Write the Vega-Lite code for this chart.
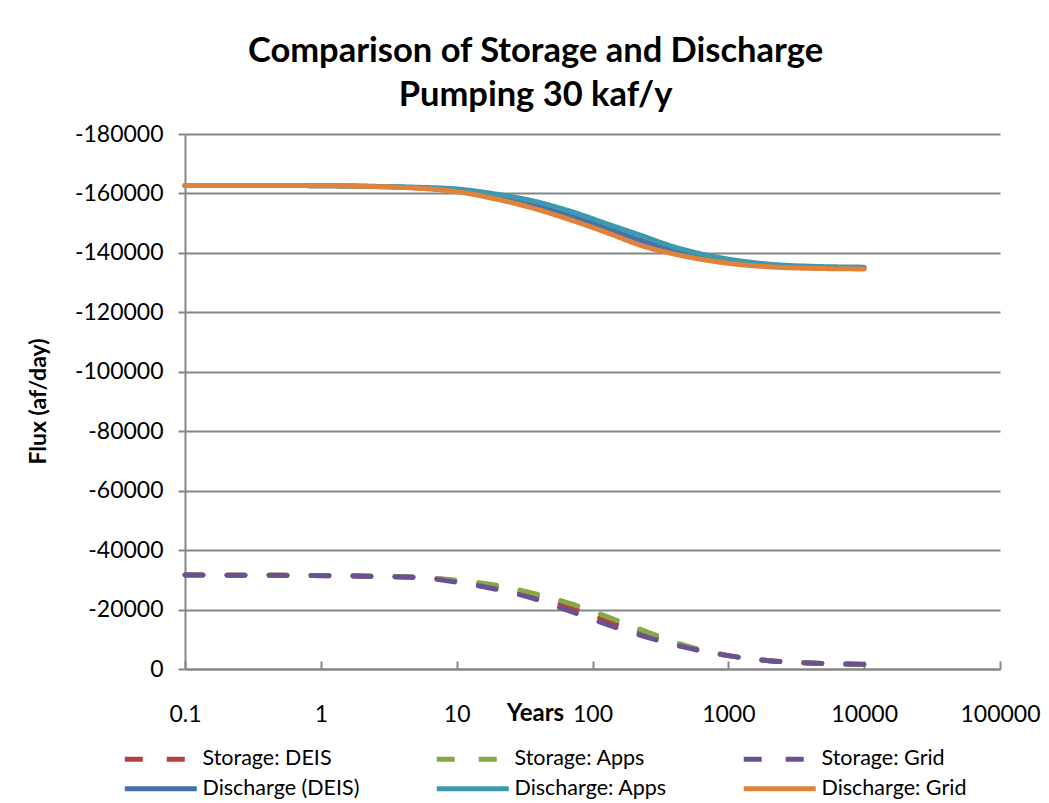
{
  "$schema": "https://vega.github.io/schema/vega-lite/v6.json",
  "width": 815,
  "height": 535,
  "autosize": "none",
  "padding": {"left": 185, "top": 134, "right": 49, "bottom": 134},
  "background": "white",
  "title": {
    "text": ["Comparison of Storage and Discharge", "Pumping 30 kaf/y"],
    "font": "Lato",
    "fontSize": 34.5,
    "fontWeight": "bold",
    "color": "black",
    "lineHeight": 44,
    "anchor": "middle",
    "dx": -57,
    "offset": 10
  },
  "config": {
    "view": {"stroke": null},
    "axis": {
      "labelFont": "Lato",
      "labelFontSize": 23,
      "labelColor": "black",
      "titleFont": "Lato",
      "titleColor": "black",
      "titleFontWeight": "bold",
      "domainColor": "#868686",
      "domainWidth": 2,
      "tickColor": "#868686",
      "tickWidth": 2,
      "gridColor": "#868686",
      "gridWidth": 2
    },
    "legend": {
      "title": null,
      "orient": "none",
      "legendX": -35,
      "legendY": 614,
      "direction": "horizontal",
      "columns": 3,
      "columnPadding": 66,
      "rowPadding": 7,
      "symbolType": "M-6,0H6",
      "symbolSize": 144,
      "symbolStrokeWidth": 5,
      "labelFont": "Lato",
      "labelFontSize": 21.5,
      "labelColor": "black",
      "labelOffset": 31,
      "labelLimit": 400
    }
  },
  "data": {
    "values": [
      {"t": 0.1, "v": -31600, "s": "Storage: DEIS"},
      {"t": 0.3, "v": -31550, "s": "Storage: DEIS"},
      {"t": 1, "v": -31420, "s": "Storage: DEIS"},
      {"t": 2, "v": -31250, "s": "Storage: DEIS"},
      {"t": 5, "v": -30850, "s": "Storage: DEIS"},
      {"t": 10, "v": -29600, "s": "Storage: DEIS"},
      {"t": 20, "v": -27500, "s": "Storage: DEIS"},
      {"t": 35, "v": -24800, "s": "Storage: DEIS"},
      {"t": 70, "v": -20600, "s": "Storage: DEIS"},
      {"t": 135, "v": -15900, "s": "Storage: DEIS"},
      {"t": 265, "v": -11200, "s": "Storage: DEIS"},
      {"t": 500, "v": -7400, "s": "Storage: DEIS"},
      {"t": 1000, "v": -4500, "s": "Storage: DEIS"},
      {"t": 2000, "v": -2800, "s": "Storage: DEIS"},
      {"t": 4000, "v": -2000, "s": "Storage: DEIS"},
      {"t": 10000, "v": -1550, "s": "Storage: DEIS"},

      {"t": 0.1, "v": -31600, "s": "Storage: Apps"},
      {"t": 0.3, "v": -31550, "s": "Storage: Apps"},
      {"t": 1, "v": -31450, "s": "Storage: Apps"},
      {"t": 2, "v": -31300, "s": "Storage: Apps"},
      {"t": 5, "v": -30900, "s": "Storage: Apps"},
      {"t": 10, "v": -29900, "s": "Storage: Apps"},
      {"t": 20, "v": -28100, "s": "Storage: Apps"},
      {"t": 35, "v": -25700, "s": "Storage: Apps"},
      {"t": 70, "v": -21900, "s": "Storage: Apps"},
      {"t": 135, "v": -17200, "s": "Storage: Apps"},
      {"t": 265, "v": -12100, "s": "Storage: Apps"},
      {"t": 500, "v": -7700, "s": "Storage: Apps"},
      {"t": 1000, "v": -4500, "s": "Storage: Apps"},
      {"t": 2000, "v": -2800, "s": "Storage: Apps"},
      {"t": 4000, "v": -2000, "s": "Storage: Apps"},
      {"t": 10000, "v": -1500, "s": "Storage: Apps"},

      {"t": 0.1, "v": -31600, "s": "Storage: Grid"},
      {"t": 0.3, "v": -31550, "s": "Storage: Grid"},
      {"t": 1, "v": -31400, "s": "Storage: Grid"},
      {"t": 2, "v": -31200, "s": "Storage: Grid"},
      {"t": 5, "v": -30800, "s": "Storage: Grid"},
      {"t": 10, "v": -29200, "s": "Storage: Grid"},
      {"t": 20, "v": -26700, "s": "Storage: Grid"},
      {"t": 35, "v": -24000, "s": "Storage: Grid"},
      {"t": 70, "v": -19300, "s": "Storage: Grid"},
      {"t": 135, "v": -14600, "s": "Storage: Grid"},
      {"t": 265, "v": -10400, "s": "Storage: Grid"},
      {"t": 500, "v": -7100, "s": "Storage: Grid"},
      {"t": 1000, "v": -4500, "s": "Storage: Grid"},
      {"t": 2000, "v": -2800, "s": "Storage: Grid"},
      {"t": 4000, "v": -2000, "s": "Storage: Grid"},
      {"t": 10000, "v": -1600, "s": "Storage: Grid"},

      {"t": 0.1, "v": -162700, "s": "Discharge (DEIS)"},
      {"t": 0.3, "v": -162700, "s": "Discharge (DEIS)"},
      {"t": 1, "v": -162600, "s": "Discharge (DEIS)"},
      {"t": 2, "v": -162420, "s": "Discharge (DEIS)"},
      {"t": 5, "v": -161900, "s": "Discharge (DEIS)"},
      {"t": 10, "v": -161000, "s": "Discharge (DEIS)"},
      {"t": 20, "v": -158800, "s": "Discharge (DEIS)"},
      {"t": 30, "v": -157300, "s": "Discharge (DEIS)"},
      {"t": 70, "v": -152300, "s": "Discharge (DEIS)"},
      {"t": 135, "v": -147800, "s": "Discharge (DEIS)"},
      {"t": 224, "v": -144300, "s": "Discharge (DEIS)"},
      {"t": 400, "v": -140700, "s": "Discharge (DEIS)"},
      {"t": 700, "v": -138400, "s": "Discharge (DEIS)"},
      {"t": 1000, "v": -137200, "s": "Discharge (DEIS)"},
      {"t": 2000, "v": -135800, "s": "Discharge (DEIS)"},
      {"t": 4000, "v": -135200, "s": "Discharge (DEIS)"},
      {"t": 10000, "v": -134900, "s": "Discharge (DEIS)"},

      {"t": 0.1, "v": -162700, "s": "Discharge: Apps"},
      {"t": 0.3, "v": -162700, "s": "Discharge: Apps"},
      {"t": 1, "v": -162600, "s": "Discharge: Apps"},
      {"t": 2, "v": -162450, "s": "Discharge: Apps"},
      {"t": 5, "v": -162100, "s": "Discharge: Apps"},
      {"t": 10, "v": -161500, "s": "Discharge: Apps"},
      {"t": 20, "v": -159700, "s": "Discharge: Apps"},
      {"t": 30, "v": -158300, "s": "Discharge: Apps"},
      {"t": 70, "v": -153900, "s": "Discharge: Apps"},
      {"t": 135, "v": -149400, "s": "Discharge: Apps"},
      {"t": 224, "v": -146000, "s": "Discharge: Apps"},
      {"t": 400, "v": -142000, "s": "Discharge: Apps"},
      {"t": 700, "v": -139200, "s": "Discharge: Apps"},
      {"t": 1000, "v": -137900, "s": "Discharge: Apps"},
      {"t": 2000, "v": -136200, "s": "Discharge: Apps"},
      {"t": 4000, "v": -135500, "s": "Discharge: Apps"},
      {"t": 10000, "v": -135200, "s": "Discharge: Apps"},

      {"t": 0.1, "v": -162700, "s": "Discharge: Grid"},
      {"t": 0.3, "v": -162700, "s": "Discharge: Grid"},
      {"t": 1, "v": -162600, "s": "Discharge: Grid"},
      {"t": 2, "v": -162400, "s": "Discharge: Grid"},
      {"t": 5, "v": -161800, "s": "Discharge: Grid"},
      {"t": 10, "v": -160600, "s": "Discharge: Grid"},
      {"t": 20, "v": -158000, "s": "Discharge: Grid"},
      {"t": 30, "v": -156100, "s": "Discharge: Grid"},
      {"t": 70, "v": -151000, "s": "Discharge: Grid"},
      {"t": 135, "v": -146400, "s": "Discharge: Grid"},
      {"t": 224, "v": -142600, "s": "Discharge: Grid"},
      {"t": 400, "v": -139600, "s": "Discharge: Grid"},
      {"t": 700, "v": -137500, "s": "Discharge: Grid"},
      {"t": 1000, "v": -136500, "s": "Discharge: Grid"},
      {"t": 2000, "v": -135300, "s": "Discharge: Grid"},
      {"t": 4000, "v": -134800, "s": "Discharge: Grid"},
      {"t": 10000, "v": -134600, "s": "Discharge: Grid"}
    ]
  },
  "mark": {"type": "line", "strokeWidth": 5, "strokeCap": "round", "interpolate": "monotone"},
  "encoding": {
    "x": {
      "field": "t",
      "type": "quantitative",
      "scale": {"type": "log", "domain": [0.1, 100000], "nice": false},
      "axis": {
        "values": [0.1, 1, 10, 100, 1000, 10000, 100000],
        "labelExpr": "'' + datum.value",
        "grid": false,
        "tickSize": -8,
        "labelPadding": 42,
        "labelFlush": false,
        "title": "Years",
        "titleFontSize": 24,
        "titleX": 350,
        "titleY": 44,
        "titleAlign": "center",
        "titleBaseline": "middle"
      }
    },
    "y": {
      "field": "v",
      "type": "quantitative",
      "scale": {"domain": [-180000, 0], "reverse": true, "nice": false},
      "axis": {
        "values": [-180000, -160000, -140000, -120000, -100000, -80000, -60000, -40000, -20000, 0],
        "labelExpr": "'' + datum.value",
        "tickSize": 7,
        "labelPadding": 15,
        "title": "Flux (af/day)",
        "titleFontSize": 23,
        "titleX": -147,
        "titleY": 267,
        "titleAngle": -90,
        "titleAlign": "center",
        "titleBaseline": "middle"
      }
    },
    "color": {
      "field": "s",
      "type": "nominal",
      "sort": null,
      "scale": {
        "domain": ["Storage: DEIS", "Storage: Apps", "Storage: Grid", "Discharge (DEIS)", "Discharge: Apps", "Discharge: Grid"],
        "range": ["#B5403C", "#87A846", "#6B5193", "#4572A9", "#3C99B0", "#E0823A"]
      }
    },
    "strokeDash": {
      "field": "s",
      "type": "nominal",
      "sort": null,
      "scale": {
        "domain": ["Storage: DEIS", "Storage: Apps", "Storage: Grid", "Discharge (DEIS)", "Discharge: Apps", "Discharge: Grid"],
        "range": [[18, 24], [18, 24], [18, 24], [1, 0], [1, 0], [1, 0]]
      }
    }
  }
}
